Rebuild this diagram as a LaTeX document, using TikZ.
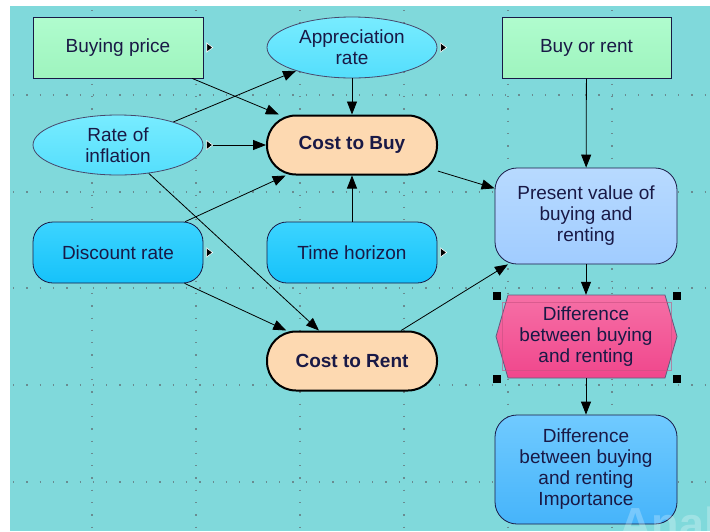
\documentclass[tikz,border=0pt]{standalone}
\usepackage{fontspec}
\setmainfont{Liberation Sans}
\usetikzlibrary{arrows.meta,shapes.geometric}

\definecolor{canvas}{RGB}{128,217,219}
\definecolor{griddot}{RGB}{105,140,145}
\definecolor{ink}{RGB}{25,25,70}
\definecolor{minttop}{RGB}{176,252,206}
\definecolor{mintbot}{RGB}{158,244,190}
\definecolor{cyantop}{RGB}{120,236,255}
\definecolor{cyanbot}{RGB}{84,222,252}
\definecolor{peach}{RGB}{253,217,177}
\definecolor{pvtop}{RGB}{184,218,255}
\definecolor{pvbot}{RGB}{160,204,255}
\definecolor{bluetop}{RGB}{60,212,255}
\definecolor{bluebot}{RGB}{22,194,250}
\definecolor{pinktop}{RGB}{246,112,166}
\definecolor{pinkbot}{RGB}{240,70,140}
\definecolor{pinkline}{RGB}{200,80,130}
\definecolor{imptop}{RGB}{112,202,255}
\definecolor{impbot}{RGB}{70,180,250}

\begin{document}
\begin{tikzpicture}
	[x=1pt,y=-1pt,
	 every node/.style={text=ink,font=\fontsize{19}{21}\selectfont,align=center,inner sep=0pt},
	 inputbox/.style={rectangle,draw=ink,line width=1pt,top color=minttop,bottom color=mintbot,minimum width=170pt,minimum height=61pt},
	 chancenode/.style={ellipse,draw=ink!80,line width=0.8pt,top color=cyantop,bottom color=cyanbot,minimum width=170pt,minimum height=61pt},
	 objective/.style={rectangle,rounded corners=29pt,draw=black,line width=2pt,fill=peach,minimum width=170pt,minimum height=59pt,font=\fontsize{19}{21}\selectfont\bfseries},
	 constnode/.style={rectangle,rounded corners=20pt,draw=ink,line width=0.8pt,top color=bluetop,bottom color=bluebot,minimum width=170pt,minimum height=61pt},
	 pvnode/.style={rectangle,rounded corners=22pt,draw=ink,line width=0.8pt,top color=pvtop,bottom color=pvbot,minimum width=182pt,minimum height=96pt},
	 hexfill/.style={draw=ink!70,line width=0.8pt,top color=pinktop,bottom color=pinkbot},
	 diffnode/.style={rectangle,minimum width=182pt,minimum height=83pt},
	 impnode/.style={rectangle,rounded corners=22pt,draw=ink,line width=0.8pt,top color=imptop,bottom color=impbot,minimum width=182pt,minimum height=109pt},
	 outflag/.style={isosceles triangle,isosceles triangle stretches,fill=black,draw=white,line width=0.6pt,minimum height=6pt,minimum width=9pt},
	 handle/.style={rectangle,fill=black,minimum size=8pt},
	 arrowpre/.style={-{Triangle[length=13pt,width=10pt]},line width=0.8pt,black},
	 arrowpost/.style={{Triangle[length=13pt,width=10pt]}-,line width=0.8pt,black}];

\useasboundingbox[fill=white] (0,0) rectangle (710,531);
\fill[canvas] (10,6) rectangle (710,531);

% dotted grid
\foreach \gx in {92,196,300,404,508,612}
	\draw[griddot,line width=1.3pt,dash pattern=on 1.3pt off 11pt] (\gx,10) -- (\gx,531);
\foreach \gy in {95,192,288,385,482}
	\draw[griddot,line width=1.3pt,dash pattern=on 1.3pt off 12pt] (13,\gy) -- (710,\gy);

\node[inputbox] (bp) at (118,47.5) {Buying price};
\node[outflag] (bpflag) at ([xshift=5.5pt]bp.east) {};
\node[chancenode] (ar) at (352,47.5) {Appreciation\\rate};
\node[outflag] (arflag) at ([xshift=5.5pt]ar.east) {};
\node[inputbox,minimum width=169pt] (bor) at (586.5,47.5) {Buy or rent};
\node[chancenode,minimum height=60pt] (ri) at (118,145) {Rate of\\inflation}
	edge [arrowpre] (ar);
\node[outflag] (riflag) at ([xshift=5.5pt]ri.east) {};
\node[objective] (cb) at (352,145) {Cost to Buy}
	edge [arrowpost] (bp)
	edge [arrowpost] (ar)
	edge [arrowpost] (riflag);
\node[constnode] (dr) at (118,252.5) {Discount rate}
	edge [arrowpre] (cb);
\node[outflag] (drflag) at ([xshift=5.5pt]dr.east) {};
\node[constnode] (th) at (352,252.5) {Time horizon}
	edge [arrowpre] (cb);
\node[outflag] (thflag) at ([xshift=5.5pt]th.east) {};
\node[objective] (cr) at (352,361) {Cost to Rent}
	edge [arrowpost] (ri)
	edge [arrowpost] (dr);
\node[pvnode] (pv) at (586,216) {Present value of\\buying and\\renting}
	edge [arrowpost] (bor)
	edge [arrowpost] (cb)
	edge [arrowpost] (cr);

% hexagon behind the difference node
\path[hexfill] (508,295) -- (665,295) -- (677,336.5) -- (665,378) -- (508,378) -- (496,336.5) -- cycle;
\node[draw=pinkline,line width=0.4pt,opacity=0.6,minimum width=169pt,minimum height=68pt] (diffframe) at (586.5,336.5) {};
\node[diffnode] (diff) at (586,336.5) {Difference\\between buying\\and renting}
	edge [arrowpost] (pv);
\foreach \hx/\hy in {497/296,677/296,497/379,677/379}
	\node[handle] (handle-\hx-\hy) at (\hx,\hy) {};
\node[impnode] (imp) at (586,469.5) {Difference\\between buying\\and renting\\Importance}
	edge [arrowpost] (diff);

\begin{scope}
\clip (10,6) rectangle (710,531);
\node[text=white,opacity=0.25,font=\fontsize{45}{45}\selectfont\bfseries,anchor=base west] (brand) at (619,539) {Analytica};
\end{scope}
\end{tikzpicture}
\end{document}
